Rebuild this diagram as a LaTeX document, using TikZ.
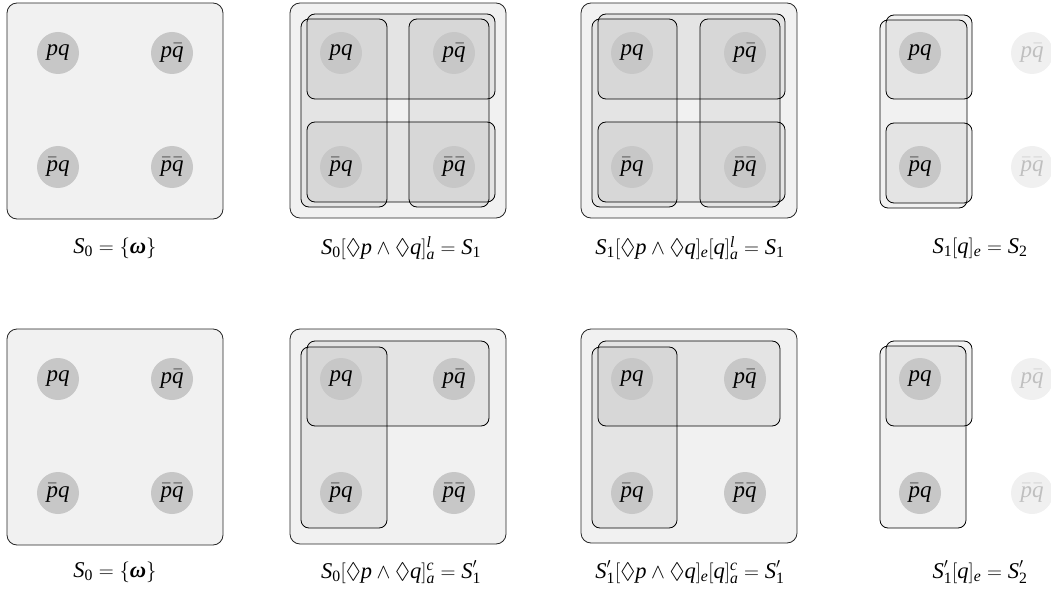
\documentclass[tikz,border=0pt]{standalone}
\usepackage{amsmath}
\usepackage{amssymb}
\usepackage{fontspec}
\setmainfont{Liberation Serif}
\newcommand{\mi}[1]{\text{\itshape #1}}
\newcommand{\mr}[1]{\text{\upshape #1}}
\newcommand{\wom}{\text{\bfseries\itshape ω}}
\begin{document}
\begin{tikzpicture}[x=1pt,y=-1pt,
  outerbox/.style={rounded corners=10pt, draw=black!85, line width=0.8pt, fill=black, fill opacity=0.055},
  cellbox/.style={rounded corners=8pt, draw=black, line width=0.8pt, fill=black, fill opacity=0.055},
  world/.style={circle, fill=black!22, minimum size=42pt, inner sep=0pt, font=\fontsize{23}{27}\selectfont},
  faded/.style={world, fill=black!6, text=black!25},
  lab/.style={font=\fontsize{22.5}{27}\selectfont, inner sep=0pt}]
\useasboundingbox (0,0) rectangle (1051,596);
% ---------- top row ----------
% panel A
\draw[outerbox] (7,3) rectangle (223,219);
\node[world] (a1) at (58,53) {$\mi{pq}$};
\node[world] (a2) at (172,53) {$\mi{p}\bar{\mi{q}}$};
\node[world] (a3) at (58,167) {$\bar{\mi{p}}\mi{q}$};
\node[world] (a4) at (172,167) {$\bar{\mi{p}}\bar{\mi{q}}$};
\node[lab] (la) at (115,248) {$\mi{S}_{\mr{0}} = \{\wom\}$};
% panel B
\draw[outerbox] (290,3) rectangle (506,218);
\draw[cellbox] (301,19) rectangle (387,207);
\draw[cellbox] (409,19) rectangle (489,207);
\draw[cellbox] (307,14) rectangle (495,99);
\draw[cellbox] (307,122) rectangle (495,202);
\node[world] (b1) at (341,53) {$\mi{pq}$};
\node[world] (b2) at (454,53) {$\mi{p}\bar{\mi{q}}$};
\node[world] (b3) at (341,167) {$\bar{\mi{p}}\mi{q}$};
\node[world] (b4) at (454,167) {$\bar{\mi{p}}\bar{\mi{q}}$};
\node[lab] (lb) at (401,248) {$\mi{S}_{\mr{0}}[\Diamond \mi{p}\wedge\Diamond \mi{q}]^{\mi{l}}_{\mi{a}} = \mi{S}_{\mr{1}}$};
% panel C
\draw[outerbox] (581,3) rectangle (797,218);
\draw[cellbox] (592,19) rectangle (677,207);
\draw[cellbox] (700,19) rectangle (780,207);
\draw[cellbox] (598,14) rectangle (785,99);
\draw[cellbox] (598,122) rectangle (785,202);
\node[world] (c1) at (632,53) {$\mi{pq}$};
\node[world] (c2) at (745,53) {$\mi{p}\bar{\mi{q}}$};
\node[world] (c3) at (632,167) {$\bar{\mi{p}}\mi{q}$};
\node[world] (c4) at (745,167) {$\bar{\mi{p}}\bar{\mi{q}}$};
\node[lab] (lc) at (690,248) {$\mi{S}_{\mr{1}}[\Diamond \mi{p}\wedge\Diamond \mi{q}]_{\mi{e}}[\mi{q}]^{\mi{l}}_{\mi{a}} = \mi{S}_{\mr{1}}$};
% panel D
\draw[cellbox] (880,20) rectangle (967,208);
\draw[cellbox] (886,15) rectangle (972,99);
\draw[cellbox] (886,123) rectangle (972,203);
\node[world] (d1) at (920,53) {$\mi{pq}$};
\node[faded] (d2) at (1032,53) {$\mi{p}\bar{\mi{q}}$};
\node[world] (d3) at (920,167) {$\bar{\mi{p}}\mi{q}$};
\node[faded] (d4) at (1032,167) {$\bar{\mi{p}}\bar{\mi{q}}$};
\node[lab] (ld) at (980,248) {$\mi{S}_{\mr{1}}[\mi{q}]_{\mi{e}} = \mi{S}_{\mr{2}}$};
% ---------- bottom row ----------
% panel E
\draw[outerbox] (7,329) rectangle (223,545);
\node[world] (e1) at (58,379) {$\mi{pq}$};
\node[world] (e2) at (172,379) {$\mi{p}\bar{\mi{q}}$};
\node[world] (e3) at (58,493) {$\bar{\mi{p}}\mi{q}$};
\node[world] (e4) at (172,493) {$\bar{\mi{p}}\bar{\mi{q}}$};
\node[lab] (le) at (115,572) {$\mi{S}_{\mr{0}} = \{\wom\}$};
% panel F
\draw[outerbox] (290,329) rectangle (506,544);
\draw[cellbox] (301,347) rectangle (387,528);
\draw[cellbox] (307,341) rectangle (489,426);
\node[world] (f1) at (341,379) {$\mi{pq}$};
\node[world] (f2) at (454,379) {$\mi{p}\bar{\mi{q}}$};
\node[world] (f3) at (341,493) {$\bar{\mi{p}}\mi{q}$};
\node[world] (f4) at (454,493) {$\bar{\mi{p}}\bar{\mi{q}}$};
\node[lab] (lf) at (401,572) {$\mi{S}_{\mr{0}}[\Diamond \mi{p}\wedge\Diamond \mi{q}]^{\mi{c}}_{\mi{a}} = \mi{S}'_{\mr{1}}$};
% panel G
\draw[outerbox] (581,329) rectangle (797,543);
\draw[cellbox] (592,347) rectangle (677,528);
\draw[cellbox] (598,341) rectangle (780,426);
\node[world] (g1) at (632,379) {$\mi{pq}$};
\node[world] (g2) at (745,379) {$\mi{p}\bar{\mi{q}}$};
\node[world] (g3) at (632,493) {$\bar{\mi{p}}\mi{q}$};
\node[world] (g4) at (745,493) {$\bar{\mi{p}}\bar{\mi{q}}$};
\node[lab] (lg) at (690,572) {$\mi{S}'_{\mr{1}}[\Diamond \mi{p}\wedge\Diamond \mi{q}]_{\mi{e}}[\mi{q}]^{\mi{c}}_{\mi{a}} = \mi{S}'_{\mr{1}}$};
% panel H
\draw[cellbox] (880,346) rectangle (966,528);
\draw[cellbox] (886,341) rectangle (972,426);
\node[world] (h1) at (920,379) {$\mi{pq}$};
\node[faded] (h2) at (1032,379) {$\mi{p}\bar{\mi{q}}$};
\node[world] (h3) at (920,493) {$\bar{\mi{p}}\mi{q}$};
\node[faded] (h4) at (1032,493) {$\bar{\mi{p}}\bar{\mi{q}}$};
\node[lab] (lh) at (980,572) {$\mi{S}'_{\mr{1}}[\mi{q}]_{\mi{e}} = \mi{S}'_{\mr{2}}$};
\end{tikzpicture}
\end{document}
